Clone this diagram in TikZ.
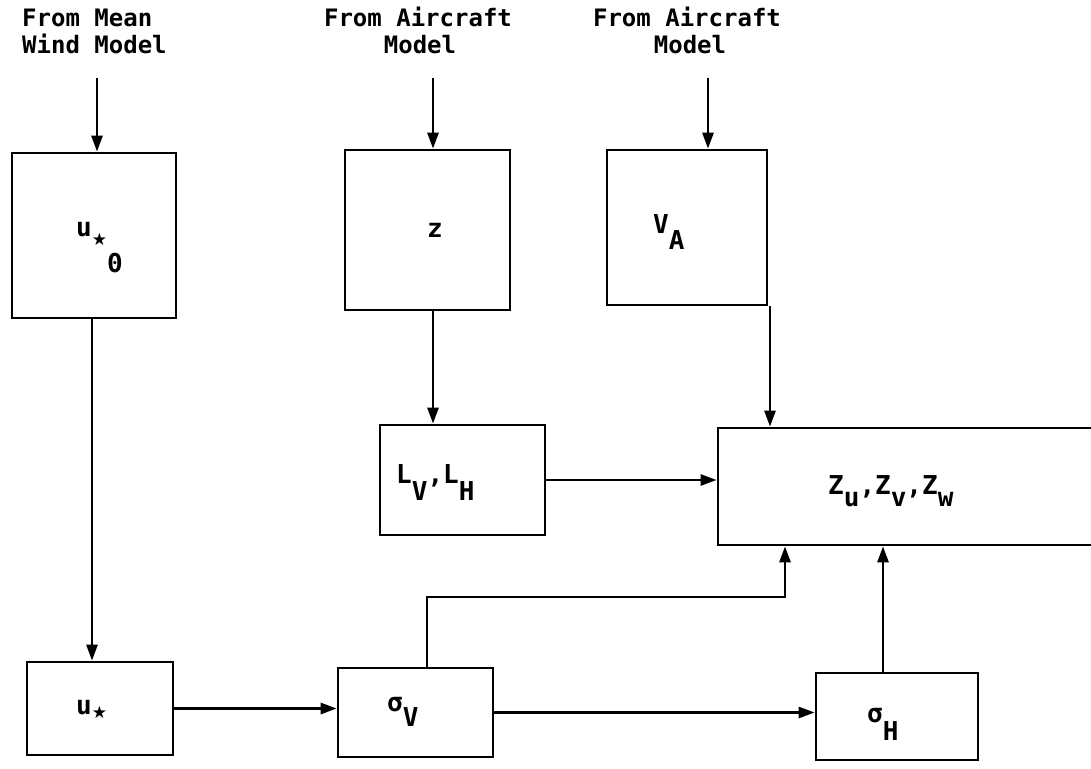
\documentclass[tikz,border=0pt]{standalone}
\usepackage{fontspec}
\setmainfont{DejaVu Sans Mono}
\newfontfamily\symf{DejaVu Sans}
\usetikzlibrary{arrows.meta}
\newcommand{\dn}[2]{\raisebox{-#1}{#2}}
\newcommand{\str}{{\symf\bfseries\fontsize{17}{17}\selectfont ★}}
\begin{document}
\begin{tikzpicture}[x=1pt,y=-1pt,
  font=\fontsize{24}{28}\selectfont\bfseries,
  blk/.style={draw, line width=2.7pt, inner sep=0pt},
  lbl/.style={inner sep=0pt, anchor=base west},
  big/.style={font=\fontsize{26}{30}\selectfont\bfseries},
  hdr/.style={inner sep=0pt, anchor=base},
  arr/.style={-{Triangle[length=16pt,width=11pt]}, line width=2.7pt}]
\useasboundingbox (0,0) rectangle (1091,768);
\fill[white] (0,0) rectangle (1091,768);

% headers
\node[lbl] (h1a) at (22,27) {From Mean};
\node[lbl] (h1b) at (22,53) {Wind Model};
\node[hdr] (h2a) at (418,27) {From Aircraft};
\node[hdr] (h2b) at (420,53) {Model};
\node[hdr] (h3a) at (687,27) {From Aircraft};
\node[hdr] (h3b) at (690,53) {Model};

% boxes
\node[blk, minimum width=164pt, minimum height=165pt] (u0) at (94,235.5) {};
\node[blk, minimum width=165pt, minimum height=160pt] (z) at (427.5,230) {};
\node[blk, minimum width=160pt, minimum height=155pt] (va) at (687,227.5) {};
\node[blk, minimum width=165pt, minimum height=110pt] (L) at (462.5,480) {};
\node[blk, minimum width=392pt, minimum height=117pt] (Z) at (914,486.5) {};
\node[blk, minimum width=146pt, minimum height=93pt] (us) at (100,708.5) {};
\node[blk, minimum width=155pt, minimum height=89pt] (sv) at (415.5,712.5) {};
\node[blk, minimum width=162pt, minimum height=87pt] (sh) at (897,716.5) {};

% labels
\node[lbl,big] (tu0) at (76,236) {u\dn{9pt}{\str}\dn{36pt}{0}};
\node[lbl,big] (tz) at (427,237) {z};
\node[lbl,big] (tva) at (653,233) {V\dn{16pt}{A}};
\node[lbl,big] (tL) at (396,483) {L\dn{17pt}{V},L\dn{17pt}{H}};
\node[lbl,big] (tZ) at (828,494) {Z\dn{12pt}{u},Z\dn{12pt}{v},Z\dn{12pt}{w}};
\node[lbl,big] (tus) at (76,714) {u\dn{4pt}{\str}};
\node[lbl,big] (tsv) at (387,711) {σ\dn{15pt}{V}};
\node[lbl,big] (tsh) at (867,722) {σ\dn{18pt}{H}};

% free ends
\coordinate (s1) at (97,78);
\coordinate (s2) at (433,78);
\coordinate (s3) at (708,78);
\coordinate (jog) at (785,597);

% connectors
\draw[arr] (s1) -- (s1 |- u0.north);
\draw[arr] (s2) -- (s2 |- z.north);
\draw[arr] (s3) -- (s3 |- va.north);
\draw[arr] ([xshift=-2pt]u0.south) -- ([xshift=-2pt]u0.south |- us.north);
\draw[arr] ([xshift=5.5pt]z.south) -- ([xshift=5.5pt]z.south |- L.north);
\draw[arr] ([xshift=83pt]va.south) -- ([xshift=83pt]va.south |- Z.north);
\draw[arr] (L.east) -- (L.east -| Z.west);
\draw[arr] (us.east) -- (us.east -| sv.west);
\draw[arr] (sv.east) -- (sv.east -| sh.west);
\draw[arr] ([xshift=11.5pt]sv.north) |- (jog) -- (jog |- Z.south);
\draw[arr] ([xshift=-14pt]sh.north) -- ([xshift=-14pt]sh.north |- Z.south);
\end{tikzpicture}
\end{document}
